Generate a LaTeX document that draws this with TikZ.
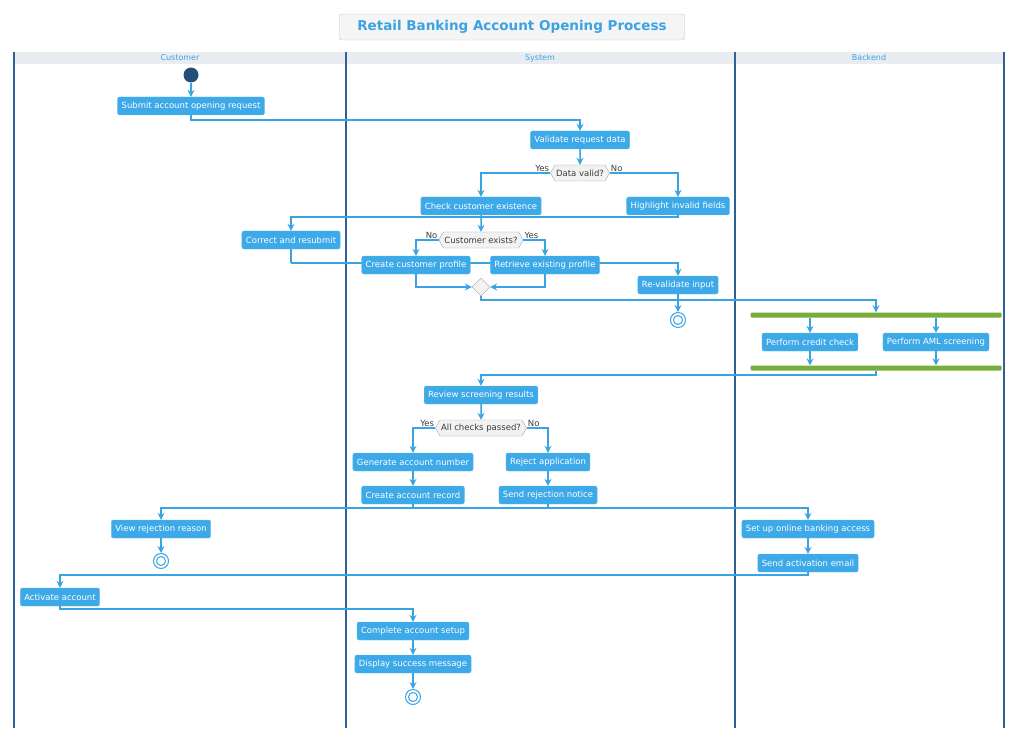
\documentclass[tikz,border=0pt]{standalone}
\usepackage{fontspec}
\setmainfont{DejaVu Sans}
\usetikzlibrary{shapes.misc,shapes.geometric,shapes.symbols,arrows.meta}
\definecolor{ab}{HTML}{3AA3E3}
\definecolor{boxc}{HTML}{3DA9E8}
\definecolor{lane}{HTML}{2F6199}
\definecolor{hdr}{HTML}{E9EDF1}
\definecolor{dgr}{HTML}{3A3A3A}
\definecolor{grn}{HTML}{77AD3A}
\tikzset{
 act/.style={draw=boxc!80!white,fill=boxc,rounded corners=2pt,text=white,font=\fontsize{8.5}{9}\selectfont,inner xsep=4pt,minimum height=18pt},
 dec/.style={signal,signal to=west and east,signal pointer angle=120,draw=gray!70,fill=gray!10,text=dgr,font=\fontsize{8.5}{9}\selectfont,inner xsep=1pt,inner ysep=3pt,minimum height=16pt},
 mrg/.style={diamond,draw=gray!70,fill=gray!10,minimum width=18pt,minimum height=18pt,inner sep=0pt},
 arr/.style={draw=ab,line width=1.5pt,-{Stealth[length=7pt,width=7pt,inset=2.5pt]}},
 ln/.style={draw=ab,line width=1.5pt},
 lbl/.style={text=dgr,font=\fontsize{8.5}{9}\selectfont,inner sep=1pt},
 fin/.style={circle,draw=ab,fill=white,line width=1pt,minimum size=15pt,inner sep=0pt,path picture={\draw[ab,line width=1pt] (path picture bounding box.center) circle (4.5pt);}},
 bar/.style={fill=grn,minimum height=5pt,inner sep=0pt,rounded corners=1pt},
 hd/.style={text=ab,font=\fontsize{8}{9}\selectfont}
}
\begin{document}
\begin{tikzpicture}[x=1pt,y=-1pt]
\useasboundingbox (0,0) rectangle (1024,743);
% title
\node[draw=gray!50,fill=gray!8,rounded corners=2pt,minimum width=345pt,minimum height=26pt,text=ab,font=\bfseries\fontsize{13.5}{15}\selectfont] (title) at (512,27) {Retail Banking Account Opening Process};
% lanes
\fill[hdr] (14,52) rectangle (1004,64);
\node[hd] (hc) at (180,58) {Customer};
\node[hd] (hs) at (540,58) {System};
\node[hd] (hb) at (869,58) {Backend};
\foreach \x in {14,346,735,1004} \draw[lane,line width=1.2pt] (\x,52) -- (\x,728);
% nodes
\node[circle,fill=lane!80!black,minimum size=15pt,inner sep=0pt] (start) at (191,75) {};
\node[act] (submit) at (191,106) {Submit account opening request};
\node[act] (validate) at (580,140) {Validate request data};
\node[dec] (dv) at (580,173) {Data valid?};
\node[act] (check) at (481,206) {Check customer existence};
\node[act] (highlight) at (678,206) {Highlight invalid fields};
\node[act] (correct) at (291,240) {Correct and resubmit};
\node[dec] (ce) at (481,240) {Customer exists?};
\node[act] (revalidate) at (678,285) {Re-validate input};
\node[fin] (end1) at (678,320) {};
\node[mrg] (merge) at (481,287) {};
\coordinate (m1) at (291,263);
\draw[ln] (correct.south) -- (m1);
\draw[arr] (m1) -| (revalidate.north);
\node[act] (create) at (416,265) {Create customer profile};
\node[act] (retrieve) at (545,265) {Retrieve existing profile};
\node[bar,minimum width=251pt] (fork) at (876,315) {};
\node[act] (credit) at (810,342) {Perform credit check};
\node[act] (aml) at (936,342) {Perform AML screening};
\node[bar,minimum width=251pt] (join) at (876,368) {};
\node[act] (review) at (481,395) {Review screening results};
\node[dec] (ac) at (481,428) {All checks passed?};
\node[act] (generate) at (413,462) {Generate account number};
\node[act] (reject) at (548,462) {Reject application};
\node[act] (record) at (413,495) {Create account record};
\node[act] (sendrej) at (548,495) {Send rejection notice};
\node[act] (viewrej) at (161,529) {View rejection reason};
\node[fin] (end2) at (161,561) {};
\node[act] (online) at (808,529) {Set up online banking access};
\node[act] (sendact) at (808,563) {Send activation email};
\node[act] (activate) at (60,597) {Activate account};
\node[act] (complete) at (413,631) {Complete account setup};
\node[act] (display) at (413,664) {Display success message};
\node[fin] (end3) at (413,697) {};
% connectors
\draw[arr] (start) -- (submit);
\draw[arr] (submit.south) -- (submit.south|-0,120) -| (validate.north);
\draw[arr] (validate) -- (dv);
\draw[arr] (dv.west) -| (check.north);
\draw[arr] (dv.east) -| (highlight.north);
\node[lbl,anchor=south east] (ly1) at (dv.west) {Yes};
\node[lbl,anchor=south west] (ln1) at (dv.east) {No};
\draw[arr] (highlight.south) -- (highlight.south|-0,217) -| (correct.north);
\draw[arr] (check) -- (ce);
\draw[arr] (ce.west) -| (create.north);
\draw[arr] (ce.east) -| (retrieve.north);
\node[lbl,anchor=south east] (ln2) at (ce.west) {No};
\node[lbl,anchor=south west] (ly2) at (ce.east) {Yes};
\draw[arr] (create.south) |- (merge.west);
\draw[arr] (retrieve.south) |- (merge.east);
\draw[arr] (merge.south) -- (merge.south|-0,300) -| (fork.north);
\draw[arr] (revalidate) -- (end1);
\draw[arr] (fork.south-|credit) -- (credit.north);
\draw[arr] (fork.south-|aml) -- (aml.north);
\draw[arr] (credit.south) -- (credit.south|-join.north);
\draw[arr] (aml.south) -- (aml.south|-join.north);
\draw[arr] (join.south) -- (join.south|-0,375) -| (review.north);
\draw[arr] (review) -- (ac);
\draw[arr] (ac.west) -| (generate.north);
\draw[arr] (ac.east) -| (reject.north);
\node[lbl,anchor=south east] (ly3) at (ac.west) {Yes};
\node[lbl,anchor=south west] (ln3) at (ac.east) {No};
\draw[arr] (generate) -- (record);
\draw[arr] (reject) -- (sendrej);
\draw[arr] (record.south) -- (record.south|-0,508) -| (online.north);
\draw[arr] (sendrej.south) -- (sendrej.south|-0,508) -| (viewrej.north);
\draw[arr] (viewrej) -- (end2);
\draw[arr] (online) -- (sendact);
\draw[arr] (sendact.south) -- (sendact.south|-0,575) -| (activate.north);
\draw[arr] (activate.south) -- (activate.south|-0,609) -| (complete.north);
\draw[arr] (complete) -- (display);
\draw[arr] (display) -- (end3);
\end{tikzpicture}
\end{document}
